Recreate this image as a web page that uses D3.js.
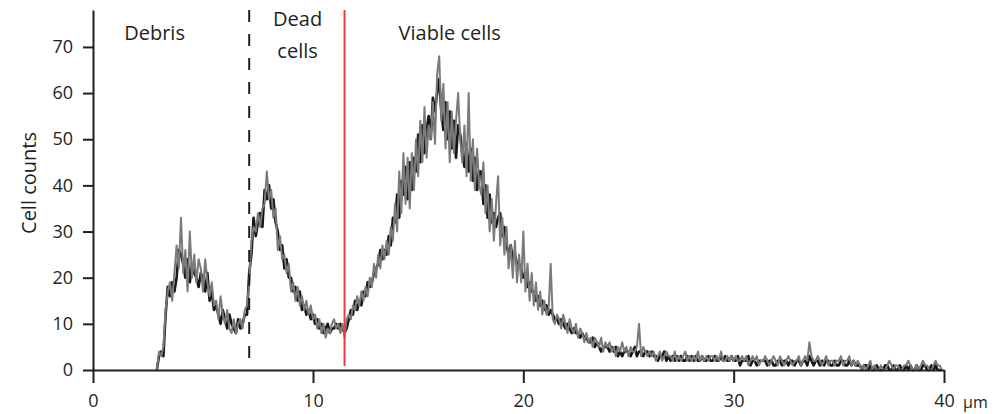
<!DOCTYPE html>
<html>
<head>
<meta charset="utf-8">
<script src="https://cdn.jsdelivr.net/npm/d3@7"></script>
<style>
  body { margin: 0; background: #fff; }
  text { font-family: "Open Sans", "Noto Sans", sans-serif; fill: #231f20; }
</style>
</head>
<body>
<div id="chart"></div>
<script>
(function() {
var width = 1007,
    height = 414;

// histogram bins, 0.1 µm wide, starting at 2.9 µm
var binStart = 2.9,
    binWidth = 0.1;

var grayCounts = [0,
  4,3,5,13,17,19,15,21,27,22,
  33,21,26,17,30,20,25,19,24,22,
  17,24,19,16,19,14,15,11,16,12,
  10,13,9,8,11,8,10,11,9,13,
  14,19,28,31,30,34,31,35,36,43,
  37,39,33,35,26,29,24,25,21,23,
  17,19,15,18,14,16,13,15,12,14,
  11,12,9,11,8,10,7,9,8,10,
  11,9,10,8,10,7,11,12,11,14,
  13,16,14,17,15,18,16,20,18,23,
  20,25,22,27,24,28,25,31,28,36,
  30,43,34,47,36,46,35,47,39,50,
  42,54,45,57,46,53,50,58,49,64,
  68,54,62,48,58,45,56,47,54,60,
  50,45,53,42,60,41,50,39,48,40,
  38,45,34,40,30,37,28,36,42,27,
  33,25,31,22,27,20,28,19,25,19,
  30,17,23,15,21,14,19,13,17,12,
  15,12,13,23,11,10,12,11,9,12,
  10,8,11,9,8,10,7,9,8,6,
  8,6,7,5,7,6,5,7,4,6,
  5,6,4,5,3,5,4,6,4,5,
  3,5,4,4,5,10,3,5,4,3,
  4,3,4,2,3,4,2,3,4,3,
  3,2,4,2,3,2,3,4,2,3,
  2,3,2,4,2,3,2,3,2,3,
  3,2,3,2,4,2,2,3,2,3,
  2,3,2,2,3,2,3,1,2,3,
  2,3,1,2,2,3,2,1,2,3,
  2,1,3,2,1,2,3,2,1,2,
  2,3,1,2,3,2,6,3,2,2,
  3,2,1,2,3,1,2,2,1,2,
  2,3,1,2,2,3,1,2,1,2,
  1,0,1,0,1,2,0,1,0,0,
  1,0,0,1,2,1,0,1,1,0,
  0,1,1,2,1,0,0,1,0,1,
  2,1,1,0,0,1,2,1,1,0];

var blackCounts = [0,
  3,4,3,12,18,16,19,17,20,26,
  25,23,20,24,19,23,21,20,18,21,
  20,17,21,15,17,13,14,12,10,13,
  11,9,12,10,9,8,11,9,10,12,
  12,21,25,33,29,32,34,31,39,37,
  40,35,37,32,30,26,27,22,24,20,
  20,17,18,15,17,13,14,12,13,11,
  12,10,11,9,10,8,9,10,8,9,
  9,10,9,10,9,8,9,11,13,12,
  15,13,15,14,17,16,19,18,19,21,
  22,23,26,24,26,25,29,27,33,32,
  38,33,41,38,44,37,45,39,46,43,
  51,45,53,47,52,55,50,59,56,60,
  63,56,52,58,50,56,48,54,46,53,
  51,47,44,49,43,48,41,46,39,43,
  43,36,40,33,38,32,34,31,33,34,
  29,31,27,25,27,24,25,23,23,22,
  20,21,18,19,17,17,15,16,14,15,
  13,14,12,13,12,11,11,10,11,10,
  9,10,9,8,9,8,8,7,8,7,
  7,6,6,7,5,6,5,4,5,5,
  5,4,5,4,5,3,4,3,4,4,
  4,3,4,5,3,4,4,3,4,4,
  3,4,3,3,2,3,3,4,2,3,
  2,3,2,3,2,3,2,2,3,2,
  3,2,3,2,2,3,2,2,3,2,
  2,3,2,2,3,2,3,2,2,3,
  2,2,3,1,2,2,2,3,1,2,
  2,1,2,2,2,2,1,2,2,1,
  1,2,2,1,2,2,1,2,2,1,
  2,2,1,2,2,1,3,2,1,2,
  2,1,2,1,2,2,1,1,2,1,
  1,2,2,1,1,2,1,2,1,1,
  1,0,1,1,0,1,0,0,1,0,
  0,0,1,1,0,0,1,0,0,1,
  0,0,1,0,1,0,0,1,0,0,
  1,1,0,0,1,0,1,0,0,0];

var xTicks = [0, 10, 20, 30, 40],
    yTicks = [0, 10, 20, 30, 40, 50, 60, 70];

var deadGate = 7.1,     // debris / dead cells
    viableGate = 11.5;  // dead / viable cells

var regionLabels = [
  {x: 2.8, lines: ["Debris"], y: [71.5]},
  {x: 9.3, lines: ["Dead", "cells"], y: [74.5, 67.5]},
  {x: 16.5, lines: ["Viable cells"], y: [71.5]}
];

var svg = d3.select("#chart").append("svg")
    .attr("width", width)
    .attr("height", height);

// the picture's first decade is drawn a little wider than the others
var x = d3.scaleLinear()
    .domain([0, 10, 40])
    .range([93, 313, 944]);

var y = d3.scaleLinear()
    .domain([0, 78])
    .range([370, 10]);

function toPoints(counts) {
  return counts.map(function(c, i) {
    return [binStart + i * binWidth, c];
  });
}

var line = d3.line()
    .x(function(d) { return x(d[0]); })
    .y(function(d) { return y(d[1]); });

svg.append("path")
    .datum(toPoints(blackCounts))
    .attr("d", line)
    .style("fill", "none")
    .style("stroke", "#161616")
    .style("stroke-width", 2.6)
    .style("stroke-linejoin", "round");

svg.append("path")
    .datum(toPoints(grayCounts))
    .attr("d", line)
    .style("fill", "none")
    .style("stroke", "#7a7a7a")
    .style("stroke-width", 2)
    .style("stroke-linejoin", "round");

// gate lines
svg.append("line")
    .attr("x1", x(deadGate)).attr("x2", x(deadGate))
    .attr("y1", 10).attr("y2", y(0))
    .style("stroke", "#231f20")
    .style("stroke-width", 2)
    .style("stroke-dasharray", "12,12");

svg.append("line")
    .attr("x1", x(viableGate)).attr("x2", x(viableGate))
    .attr("y1", 10).attr("y2", y(0) - 4)
    .style("stroke", "#ee3b36")
    .style("stroke-width", 2);

// axes
var xAxis = svg.append("g")
    .attr("transform", "translate(0," + y(0) + ")")
    .call(d3.axisBottom(x).tickValues(xTicks).tickSize(13).tickSizeOuter(0).tickPadding(11));

var yAxis = svg.append("g")
    .attr("transform", "translate(" + x(0) + ",0)")
    .call(d3.axisLeft(y).tickValues(yTicks).tickSize(10).tickSizeOuter(0).tickPadding(10));

[xAxis, yAxis].forEach(function(g) {
  g.selectAll("path, line").style("stroke", "#231f20").style("stroke-width", 2);
  g.selectAll("text")
      .style("font-family", "'Open Sans', sans-serif")
      .style("font-size", "18px")
      .style("fill", "#231f20");
});

svg.append("text")
    .attr("x", x(40) + 19)
    .attr("y", 408)
    .style("font-size", "16px")
    .text("µm");

svg.append("text")
    .attr("transform", "translate(36,183) rotate(-90)")
    .attr("text-anchor", "middle")
    .style("font-size", "20px")
    .text("Cell counts");

regionLabels.forEach(function(r) {
  r.lines.forEach(function(t, i) {
    svg.append("text")
        .attr("x", x(r.x))
        .attr("y", y(r.y[i]))
        .attr("text-anchor", "middle")
        .style("font-size", "20px")
        .text(t);
  });
});
})();
</script>
</body>
</html>
